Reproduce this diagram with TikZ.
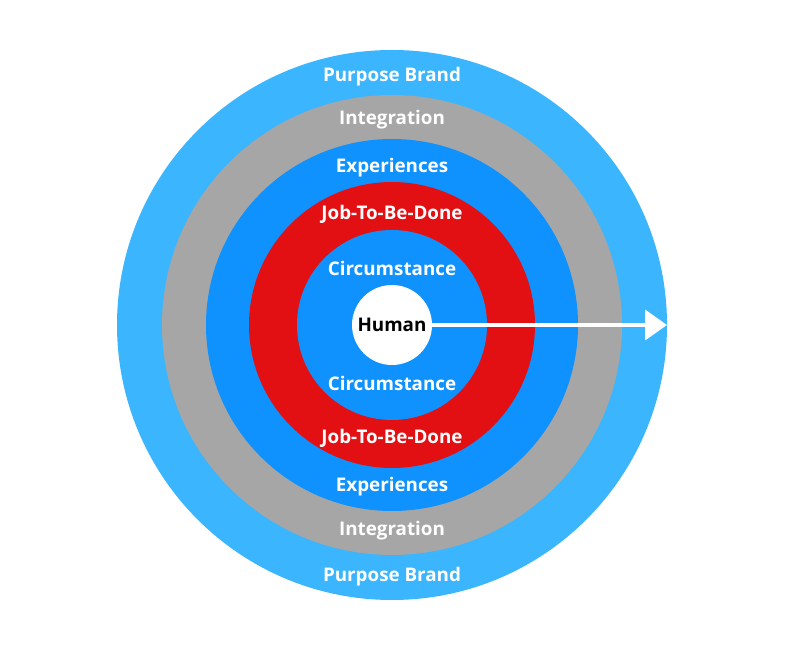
\documentclass[tikz,border=0pt]{standalone}
\usepackage{fontspec}
\setmainfont{Open Sans}
\usetikzlibrary{arrows.meta}

\definecolor{brandblue}{HTML}{3BB5FE}
\definecolor{ringgray}{HTML}{A6A6A6}
\definecolor{expblue}{HTML}{0F92FE}
\definecolor{jobred}{HTML}{E31013}

\tikzset{
	ringlabel/.style={text=white, font=\bfseries\fontsize{18.8}{20}\selectfont, inner sep=0pt},
	ring/.style={circle, minimum size=#1, inner sep=0pt, draw=none}
}

\begin{document}
\begin{tikzpicture}[x=1pt, y=1pt]
		\useasboundingbox (0, 0) rectangle (792, 650);
		
		% Rings, from outside to inside
		\node[ring=550pt, fill=brandblue] (brand) at (392, 325) {};
		\node[ring=460pt, fill=ringgray] (integration) at (brand.center) {};
		\node[ring=372pt, fill=expblue] (experiences) at (brand.center) {};
		\node[ring=286pt, fill=jobred] (job) at (brand.center) {};
		\node[ring=190pt, fill=expblue] (circumstance) at (brand.center) {};
		\node[ring=80pt, fill=white, text=black, font=\bfseries\fontsize{18.8}{20}\selectfont] (human) at (brand.center) {Human};
		
		% Labels above and below the centre
		\node[ringlabel] (brandtop) at (392, 573) {Purpose Brand};
		\node[ringlabel] (integrationtop) at (392, 530) {Integration};
		\node[ringlabel] (experiencestop) at (392, 482) {Experiences};
		\node[ringlabel] (jobtop) at (392, 436) {Job-To-Be-Done};
		\node[ringlabel] (circumstancetop) at (392, 382) {Circumstance};
		\node[ringlabel] (circumstancebottom) at (392, 267) {Circumstance};
		\node[ringlabel] (jobbottom) at (392, 212) {Job-To-Be-Done};
		\node[ringlabel] (experiencesbottom) at (392, 163) {Experiences};
		\node[ringlabel] (integrationbottom) at (392, 119) {Integration};
		\node[ringlabel] (brandbottom) at (392, 73) {Purpose Brand};
		
		% Arrow out of the centre
		\coordinate (tip) at (667, 325);
		\draw[white, line width=4pt, -{Triangle[length=22pt, width=30pt]}] (human.east) -- (tip);
	\end{tikzpicture}
\end{document}
